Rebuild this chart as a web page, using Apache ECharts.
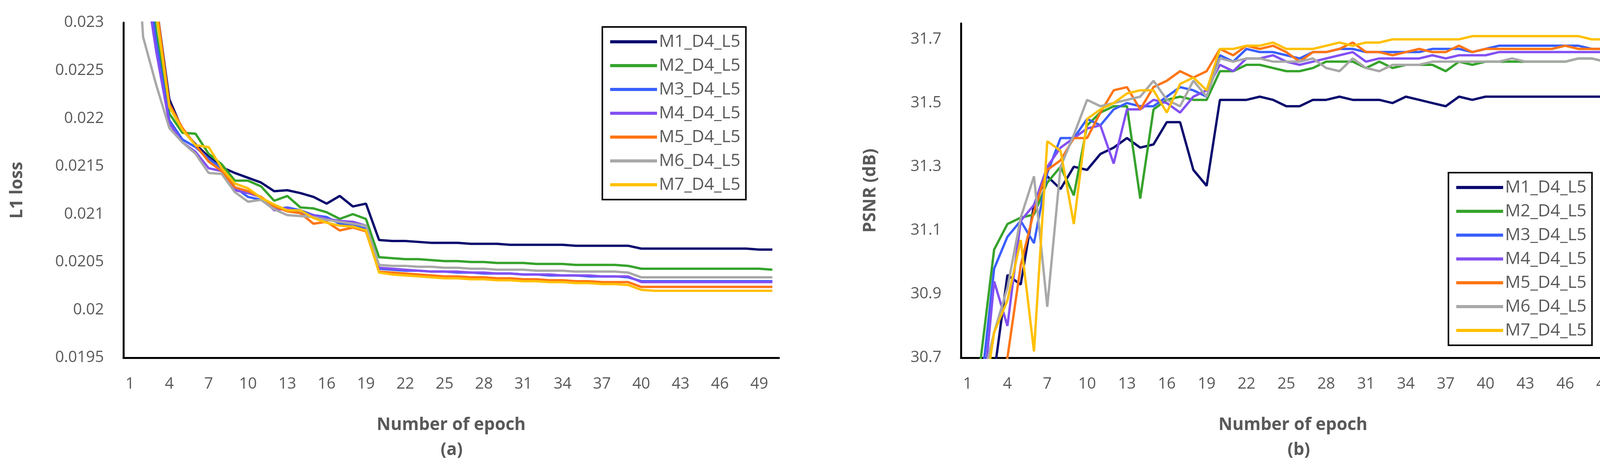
<!DOCTYPE html>
<html><head><meta charset="utf-8">
<script src="https://cdn.jsdelivr.net/npm/echarts@6/dist/echarts.min.js"></script>
<style>html,body{margin:0;padding:0;background:#fff}#c{width:4168px;height:1211px}</style>
</head><body><div id="c"></div>
<script>
const epochs = Array.from({length:50},(_,i)=>String(i+1));
const names = ['M1_D4_L5','M2_D4_L5','M3_D4_L5','M4_D4_L5','M5_D4_L5','M6_D4_L5','M7_D4_L5'];
const colors = ['#0a0a6e','#36a32c','#3a5fff','#8350f2','#ff7514','#a8a8a8','#ffc000'];

const M1_loss = [0.0262,0.0245,0.0232,0.0222,0.02188,0.02173,0.0216,0.02149,0.02143,0.02138,0.02133,0.02124,0.02125,0.02122,0.02118,0.02111,0.02119,0.02108,0.02111,0.02073,0.02072,0.02072,0.02071,0.0207,0.0207,0.0207,0.02069,0.02069,0.02069,0.02068,0.02068,0.02068,0.02068,0.02068,0.02067,0.02067,0.02067,0.02067,0.02067,0.02064,0.02064,0.02064,0.02064,0.02064,0.02064,0.02064,0.02064,0.02064,0.02063,0.02063];
const M2_loss = [0.0258,0.0240,0.0229,0.02205,0.02185,0.02184,0.02163,0.02152,0.02135,0.02135,0.02129,0.02114,0.02119,0.02107,0.02106,0.02102,0.02095,0.021,0.02095,0.02055,0.02054,0.02053,0.02053,0.02052,0.02051,0.02051,0.0205,0.0205,0.02049,0.02049,0.02049,0.02048,0.02048,0.02048,0.02047,0.02047,0.02047,0.02047,0.02046,0.02043,0.02043,0.02043,0.02043,0.02043,0.02043,0.02043,0.02043,0.02043,0.02043,0.02042];
const M3_loss = [0.0256,0.0238,0.0228,0.02198,0.02178,0.0217,0.02158,0.02148,0.02128,0.02118,0.02115,0.02105,0.02107,0.02104,0.02099,0.02097,0.0209,0.02088,0.02085,0.02043,0.02042,0.02041,0.02041,0.0204,0.0204,0.02039,0.02039,0.02038,0.02038,0.02038,0.02037,0.02037,0.02036,0.02036,0.02036,0.02035,0.02035,0.02035,0.02034,0.0203,0.0203,0.0203,0.0203,0.0203,0.0203,0.0203,0.0203,0.0203,0.0203,0.0203];
const M4_loss = [0.0255,0.0236,0.0227,0.02195,0.02175,0.02165,0.02148,0.02145,0.02125,0.02122,0.02118,0.02104,0.02106,0.02101,0.02099,0.02095,0.02093,0.02092,0.02088,0.02044,0.02043,0.02042,0.02041,0.0204,0.0204,0.0204,0.02039,0.02039,0.02038,0.02038,0.02037,0.02037,0.02037,0.02036,0.02036,0.02036,0.02035,0.02035,0.02035,0.02029,0.02029,0.02029,0.02029,0.02029,0.02029,0.02029,0.02029,0.02029,0.02029,0.02029];
const M5_loss = [0.0262,0.0245,0.0232,0.02215,0.0219,0.02172,0.02155,0.02145,0.02128,0.02124,0.02118,0.02108,0.02103,0.02101,0.0209,0.02092,0.02083,0.02086,0.02082,0.0204,0.02039,0.02038,0.02037,0.02036,0.02035,0.02035,0.02034,0.02034,0.02033,0.02033,0.02032,0.02032,0.02031,0.02031,0.0203,0.0203,0.02029,0.02029,0.02029,0.02024,0.02024,0.02024,0.02024,0.02024,0.02024,0.02024,0.02024,0.02024,0.02024,0.02024];
const M6_loss = [0.0250,0.02285,0.02235,0.0219,0.02175,0.02163,0.02143,0.02142,0.02123,0.02113,0.02115,0.02105,0.02099,0.02098,0.02097,0.02094,0.02092,0.0209,0.02088,0.02047,0.02046,0.02046,0.02045,0.02045,0.02044,0.02044,0.02043,0.02043,0.02042,0.02042,0.02042,0.02041,0.02041,0.02041,0.0204,0.0204,0.0204,0.0204,0.02039,0.02034,0.02034,0.02034,0.02034,0.02034,0.02034,0.02034,0.02034,0.02034,0.02034,0.02034];
const M7_loss = [0.0262,0.0244,0.0231,0.02212,0.02188,0.02172,0.0217,0.02148,0.02132,0.02127,0.02117,0.0211,0.02104,0.02104,0.02096,0.02091,0.02088,0.02087,0.02083,0.02039,0.02037,0.02036,0.02035,0.02034,0.02033,0.02033,0.02032,0.02032,0.02031,0.02031,0.0203,0.0203,0.02029,0.02029,0.02028,0.02028,0.02027,0.02027,0.02026,0.02021,0.0202,0.0202,0.0202,0.0202,0.0202,0.0202,0.0202,0.0202,0.0202,0.0202];

const M1_psnr = [30.3,30.5,30.65,30.96,30.93,31.18,31.27,31.23,31.3,31.29,31.34,31.36,31.39,31.36,31.37,31.44,31.44,31.29,31.24,31.51,31.51,31.51,31.52,31.51,31.49,31.49,31.51,31.51,31.52,31.51,31.51,31.51,31.5,31.52,31.51,31.5,31.49,31.52,31.51,31.52,31.52,31.52,31.52,31.52,31.52,31.52,31.52,31.52,31.52,31.53];
const M2_psnr = [30.4,30.7,31.04,31.12,31.14,31.15,31.25,31.3,31.21,31.43,31.47,31.49,31.49,31.2,31.48,31.51,31.52,31.51,31.51,31.6,31.6,31.62,31.62,31.61,31.6,31.6,31.61,31.63,31.63,31.63,31.61,31.63,31.61,31.62,31.62,31.62,31.6,31.63,31.62,31.63,31.63,31.63,31.63,31.63,31.63,31.63,31.64,31.64,31.63,31.64];
const M3_psnr = [30.4,30.6,30.98,31.08,31.13,31.06,31.28,31.39,31.39,31.45,31.43,31.48,31.5,31.49,31.49,31.52,31.55,31.54,31.52,31.65,31.63,31.67,31.66,31.66,31.65,31.64,31.66,31.66,31.67,31.67,31.66,31.66,31.66,31.66,31.66,31.67,31.67,31.67,31.66,31.67,31.68,31.68,31.68,31.68,31.68,31.68,31.68,31.67,31.67,31.68];
const M4_psnr = [30.3,30.5,30.94,30.8,31.13,31.18,31.3,31.36,31.39,31.42,31.43,31.31,31.48,31.48,31.51,31.5,31.47,31.52,31.54,31.62,31.6,31.64,31.64,31.65,31.63,31.62,31.63,31.64,31.65,31.66,31.63,31.64,31.64,31.64,31.64,31.65,31.64,31.65,31.65,31.65,31.66,31.66,31.66,31.66,31.66,31.66,31.66,31.66,31.66,31.66];
const M5_psnr = [30.2,30.4,30.55,30.7,30.99,31.16,31.29,31.32,31.39,31.39,31.47,31.54,31.55,31.48,31.55,31.57,31.6,31.58,31.6,31.67,31.65,31.68,31.67,31.68,31.66,31.63,31.66,31.66,31.67,31.69,31.66,31.66,31.65,31.66,31.67,31.66,31.66,31.68,31.66,31.67,31.67,31.67,31.67,31.67,31.67,31.68,31.67,31.67,31.67,31.67];
const M6_psnr = [30.4,30.6,30.78,30.92,31.14,31.27,30.86,31.3,31.4,31.51,31.49,31.5,31.51,31.52,31.57,31.51,31.49,31.57,31.52,31.64,31.63,31.64,31.64,31.63,31.63,31.63,31.64,31.61,31.6,31.64,31.61,31.6,31.62,31.62,31.62,31.63,31.63,31.63,31.63,31.63,31.63,31.64,31.63,31.63,31.63,31.63,31.64,31.64,31.63,31.64];
const M7_psnr = [30.3,30.5,30.78,30.88,31.07,30.72,31.38,31.35,31.12,31.45,31.48,31.5,31.53,31.54,31.54,31.47,31.56,31.58,31.54,31.67,31.67,31.68,31.68,31.69,31.67,31.67,31.67,31.68,31.69,31.68,31.69,31.69,31.7,31.7,31.7,31.7,31.7,31.7,31.71,31.71,31.71,31.71,31.71,31.71,31.71,31.71,31.71,31.7,31.7,31.7];

const lossData = [M1_loss,M2_loss,M3_loss,M4_loss,M5_loss,M6_loss,M7_loss];
const psnrData = [M1_psnr,M2_psnr,M3_psnr,M4_psnr,M5_psnr,M6_psnr,M7_psnr];

const FONT = '"Open Sans", "Liberation Sans", sans-serif';
const grey = '#595959';
const axisLine = {show:true, lineStyle:{color:'#000', width:5}};
function xAxis(gi){
  return {type:'category', gridIndex:gi, data:epochs, boundaryGap:true,
    axisLine, axisTick:{show:false},
    axisLabel:{interval:2, color:grey, fontSize:40, fontFamily:FONT, margin:48},
    name:'Number of epoch', nameLocation:'middle', nameGap:150,
    nameTextStyle:{color:grey, fontSize:44, fontWeight:'bold', fontFamily:FONT}};
}
const legendBase = {orient:'vertical', data:names, icon:'rect', itemWidth:120, itemHeight:8,
  itemGap:17, borderColor:'#000', borderWidth:4, padding:[16,14,16,20], backgroundColor:'#fff',
  textStyle:{color:grey, fontSize:44, fontFamily:FONT}};

const series = [];
names.forEach((n,i)=>{
  series.push({name:n, type:'line', xAxisIndex:0, yAxisIndex:0, data:lossData[i], showSymbol:false,
    clip:true, lineStyle:{width:6, color:colors[i]}, itemStyle:{color:colors[i]}});
  series.push({name:n, type:'line', xAxisIndex:1, yAxisIndex:1, data:psnrData[i], showSymbol:false,
    clip:true, lineStyle:{width:6, color:colors[i]}, itemStyle:{color:colors[i]}});
});

const chart = echarts.init(document.getElementById('c'));
chart.setOption({
  animation:false,
  backgroundColor:'#fff',
  grid:[{left:316, right:2174, top:58, bottom:295, outerBoundsMode:'none', containLabel:false},
        {left:2460, right:8, top:60, bottom:295, outerBoundsMode:'none', containLabel:false}],
  xAxis:[xAxis(0), xAxis(1)],
  yAxis:[
    {type:'value', gridIndex:0, min:0.0195, max:0.023, interval:0.0005,
     axisLine, axisTick:{show:false}, splitLine:{show:false},
     axisLabel:{color:grey, fontSize:40, fontFamily:FONT, margin:50, formatter:v=>String(+v.toFixed(4))},
     name:'L1 loss', nameLocation:'middle', nameGap:250, nameRotate:90,
     nameTextStyle:{color:grey, fontSize:44, fontWeight:'bold', fontFamily:FONT}},
    {type:'value', gridIndex:1, min:30.7, max:31.75, interval:0.2,
     axisLine, axisTick:{show:false}, splitLine:{show:false},
     axisLabel:{color:grey, fontSize:40, fontFamily:FONT, margin:50, showMaxLabel:false,
       formatter:v=>{const r=Math.round(v*10)/10; return Math.abs(v-r)<1e-6 ? r.toFixed(1) : '';}},
     name:'PSNR (dB)', nameLocation:'middle', nameGap:210, nameRotate:90,
     nameTextStyle:{color:grey, fontSize:44, fontWeight:'bold', fontFamily:FONT}}
  ],
  legend:[Object.assign({left:1542, top:69}, legendBase), Object.assign({left:3708, top:442}, legendBase)],
  graphic:[
    {type:'text', left:1128, top:1130, style:{text:'(a)', fontSize:44, fill:grey, fontFamily:FONT, fontWeight:'bold'}},
    {type:'text', left:3296, top:1130, style:{text:'(b)', fontSize:44, fill:grey, fontFamily:FONT, fontWeight:'bold'}}
  ],
  series
});
</script></body></html>
